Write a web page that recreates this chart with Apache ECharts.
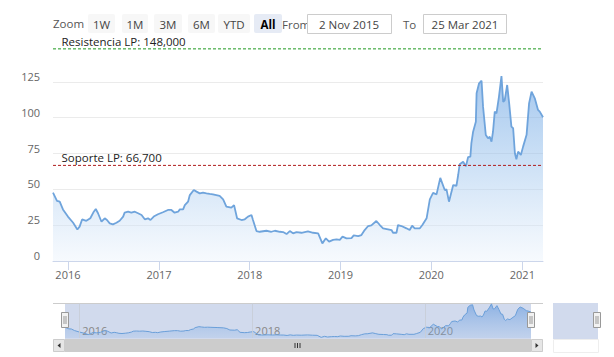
<!DOCTYPE html>
<html>
<head>
<meta charset="utf-8">
<script src="https://cdn.jsdelivr.net/npm/echarts@6/dist/echarts.min.js"></script>
<style>
html,body{margin:0;padding:0;background:#fff;}
#chart{width:614px;height:357px;}
</style>
</head>
<body>
<div id="chart"></div>
<script>
// ---- data ----
const dates = [
'2015-11-02','2015-11-18','2015-11-29','2015-12-12','2016-01-01','2016-01-22','2016-02-08','2016-02-17','2016-02-27','2016-03-15',
'2016-03-31','2016-04-14','2016-04-22','2016-05-01','2016-05-15','2016-05-28','2016-06-06','2016-06-17','2016-06-30','2016-07-14',
'2016-07-27','2016-08-10','2016-08-16','2016-08-30','2016-09-12','2016-09-26','2016-10-09','2016-10-23','2016-11-05','2016-11-18',
'2016-11-28','2016-12-11','2016-12-28','2017-01-17','2017-02-06','2017-02-20','2017-03-05','2017-03-19','2017-03-26','2017-04-08',
'2017-04-15','2017-04-28','2017-05-05','2017-05-21','2017-06-01','2017-06-14','2017-06-27','2017-07-11','2017-07-24','2017-08-06',
'2017-09-02','2017-09-16','2017-09-29','2017-10-19','2017-10-30','2017-11-11','2017-11-29','2017-12-12','2017-12-25','2018-01-08',
'2018-01-14','2018-01-28','2018-02-10','2018-03-09','2018-03-29','2018-04-12','2018-05-02','2018-05-15','2018-05-29','2018-06-11',
'2018-06-24','2018-07-08','2018-07-28','2018-08-23','2018-09-13','2018-10-03','2018-10-20','2018-11-03','2018-11-16','2018-12-02',
'2018-12-16','2018-12-29','2019-01-09','2019-01-25','2019-02-14','2019-02-23','2019-03-13','2019-03-26','2019-04-08','2019-04-22',
'2019-05-05','2019-05-25','2019-06-08','2019-06-21','2019-07-11','2019-07-25','2019-07-31','2019-08-14','2019-08-20','2019-09-03',
'2019-09-23','2019-10-06','2019-10-16','2019-10-26','2019-11-16','2019-11-26','2019-12-13','2019-12-26','2020-01-08','2020-01-22',
'2020-02-06','2020-02-24','2020-03-02','2020-03-12','2020-03-29','2020-04-11','2020-04-18','2020-04-24','2020-05-08','2020-05-19',
'2020-05-28','2020-06-06','2020-06-10','2020-06-17','2020-06-28','2020-07-01','2020-07-11','2020-07-21','2020-07-27','2020-08-07',
'2020-08-16','2020-08-23','2020-08-30','2020-09-05','2020-09-12','2020-09-19','2020-09-29','2020-10-09','2020-10-16','2020-10-22',
'2020-11-01','2020-11-09','2020-11-18','2020-11-25','2020-12-02','2020-12-08','2020-12-15','2020-12-26','2021-01-04','2021-01-18',
'2021-01-28','2021-02-07','2021-02-20','2021-03-05','2021-03-12','2021-03-25'
];
const values = [
47.7,42,41.4,36,31,26.7,22,24,29,28,
29.8,34.4,36.3,33.3,27.4,29.8,28.6,26.3,25.6,26.7,
28.1,31,33.7,34.4,33.7,34.4,33.3,32.1,29.1,29.8,
28.6,31,32.6,34,35.6,35.6,33.7,34.4,36,36,
39,41.4,46,49.5,48.4,47.2,47.7,47.2,46.8,46.5,
45.4,43,37.9,37.2,39,29.8,28.6,29.1,31,32.1,
28.6,20.9,20.4,21.1,20.4,21.1,20.4,20.2,18.8,20.9,
19.3,20.2,19.7,20.7,19.7,19.3,12.3,15.8,13.5,14.7,
15.1,14.7,17,15.8,16,17.9,17.4,18.1,21.6,24.4,
24.9,27.9,25.1,22.8,22.1,21.6,19.7,19.7,25.1,24.4,
22.8,21.6,24.6,22.8,22.8,25.1,29.8,43,47.5,46.5,
58,49.5,50,41.4,53,52.5,60,67.5,69.3,66,
72.5,72.8,82,90.2,97.2,117,124,125.8,107.7,87.9,
85.6,86.7,83.3,90.2,104.2,103,114.7,129,111,112,
122.8,110,93.7,92.6,75.2,71,76.3,74,79.8,88,
110,118.1,113.5,105.4,104.2,100.3
];
const rangeStart = '2015-11-02';
const rangeEnd = '2021-03-25';
const yTicks = [0, 25, 50, 75, 100, 125];
const resistencia = 148;
const resistenciaLabel = 'Resistencia LP: 148,000';
const soporte = 66.7;
const soporteLabel = 'Soporte LP: 66,700';
const navYears = ['2016-01-01', '2018-01-01', '2020-01-01'];
const zoomButtons = ['1W', '1M', '3M', '6M', 'YTD', 'All'];
const fromText = '2 Nov 2015';
const toText = '25 Mar 2021';

// ---- chart ----
const FONT = '"Open Sans", "Noto Sans", sans-serif';
const DAY = 86400000;
const seriesData = dates.map((d, i) => [d, values[i]]);

function yearLabel(v) {
  const d = new Date(v);
  return (d.getMonth() === 0 && d.getDate() === 1) ? String(d.getFullYear()) : '';
}
function evenYearLabel(v) {
  const d = new Date(v);
  return (d.getMonth() === 0 && d.getDate() === 1 && d.getFullYear() % 2 === 0) ? String(d.getFullYear()) : '';
}

const btnBoxes = [[88,27],[122,26],[154,28],[188,27],[218,32],[254,28]];
const graphics = [];
graphics.push({type:'text', left:53, top:17, style:{text:'Zoom', fill:'#555', font:'11.5px ' + FONT}});
zoomButtons.forEach((b, i) => {
  const [x, w] = btnBoxes[i];
  const sel = b === 'All';
  graphics.push({type:'rect', shape:{x:x, y:14, width:w, height:19, r:2}, style:{fill: sel ? '#e6ebf5' : '#f7f7f7'}});
  graphics.push({type:'text', x:x + w/2, y:24, style:{text:b, fill: sel ? '#000' : '#444', align:'center', verticalAlign:'middle', font:(sel ? 'bold ' : '') + '11.5px ' + FONT}});
});
graphics.push({type:'text', x:282, y:24, style:{text:'From', fill:'#555', verticalAlign:'middle', font:'11.5px ' + FONT}});
graphics.push({type:'rect', shape:{x:307.5, y:14.5, width:84, height:19}, style:{fill:'#fff', stroke:'#ccc', lineWidth:1}});
graphics.push({type:'text', x:349, y:24, style:{text:fromText, fill:'#444', align:'center', verticalAlign:'middle', font:'11.5px ' + FONT}});
graphics.push({type:'text', x:403, y:24, style:{text:'To', fill:'#555', verticalAlign:'middle', font:'11.5px ' + FONT}});
graphics.push({type:'rect', shape:{x:423.5, y:14.5, width:83, height:19}, style:{fill:'#fff', stroke:'#ccc', lineWidth:1}});
graphics.push({type:'text', x:465, y:24, style:{text:toText, fill:'#444', align:'center', verticalAlign:'middle', font:'11.5px ' + FONT}});

// navigator decorations
graphics.push({type:'rect', z:-1, shape:{x:65, y:303, width:466, height:36}, style:{fill:'rgba(102,133,194,0.3)'}});
graphics.push({type:'line', shape:{x1:53, y1:303.5, x2:543, y2:303.5}, style:{stroke:'#ccc', lineWidth:1}});
function handle(x) {
  graphics.push({type:'rect', z:10, shape:{x:x - 3.5, y:312.5, width:7, height:15}, style:{fill:'#f2f2f2', stroke:'#999', lineWidth:1}});
  graphics.push({type:'line', z:11, shape:{x1:x - 1, y1:316, x2:x - 1, y2:324}, style:{stroke:'#999', lineWidth:1}});
  graphics.push({type:'line', z:11, shape:{x1:x + 1, y1:316, x2:x + 1, y2:324}, style:{stroke:'#999', lineWidth:1}});
}
handle(65); handle(531);
// scrollbar
graphics.push({type:'rect', shape:{x:53, y:339, width:490, height:13}, style:{fill:'#f2f2f2'}});
graphics.push({type:'rect', shape:{x:65, y:339, width:466, height:13}, style:{fill:'#cccccc'}});
graphics.push({type:'rect', shape:{x:53.5, y:339.5, width:11, height:12}, style:{fill:'#e6e6e6', stroke:'#ccc', lineWidth:1}});
graphics.push({type:'rect', shape:{x:531.5, y:339.5, width:11, height:12}, style:{fill:'#e6e6e6', stroke:'#ccc', lineWidth:1}});
graphics.push({type:'polygon', shape:{points:[[60.5,343],[60.5,348],[57.5,345.5]]}, style:{fill:'#333'}});
graphics.push({type:'polygon', shape:{points:[[535.5,343],[535.5,348],[538.5,345.5]]}, style:{fill:'#333'}});
[295, 297.5, 300].forEach(x => graphics.push({type:'line', shape:{x1:x, y1:343, x2:x, y2:348}, style:{stroke:'#333', lineWidth:1}}));
// clipped duplicate on the right
graphics.push({type:'rect', shape:{x:553, y:303, width:45, height:36}, style:{fill:'rgba(102,133,194,0.3)'}});
graphics.push({type:'rect', shape:{x:553.5, y:339.5, width:45, height:13}, style:{fill:'#fff', stroke:'#eee', lineWidth:1}});
handle(597);

// horizontal level lines drawn as 2-point line series through the axes
function levelSeries(value, text, color) {
  return {
    type: 'line', xAxisIndex: 0, yAxisIndex: 0,
    data: [
      {value: [rangeStart, value], label: {show: true, formatter: text, position: [9, -13], align: 'left',
        color: '#222', fontSize: 11.5, fontFamily: FONT}},
      {value: [rangeEnd, value]}
    ],
    showSymbol: true, symbol: 'circle', symbolSize: 1, silent: true, z: 4,
    itemStyle: {color: 'rgba(0,0,0,0)', borderWidth: 0},
    lineStyle: {color: color, type: [3, 2], width: 1},
    label: {show: false}
  };
}

const option = {
  animation: false,
  backgroundColor: '#fff',
  textStyle: {fontFamily: FONT},
  grid: [
    {left: 53, right: 71, top: 46, bottom: 96},
    {left: 65, right: 83, top: 303, height: 35}
  ],
  xAxis: [
    {
      type: 'time', gridIndex: 0, min: rangeStart, max: rangeEnd,
      minInterval: 365 * DAY,
      axisLine: {lineStyle: {color: '#ccd6eb'}},
      axisTick: {show: true, length: 9, lineStyle: {color: '#ccd6eb'}},
      axisLabel: {color: '#666', fontSize: 11, margin: 8, formatter: yearLabel, hideOverlap: false},
      splitLine: {show: false}
    },
    {
      type: 'time', gridIndex: 1, min: rangeStart, max: rangeEnd,
      axisLine: {show: false}, axisTick: {show: false},
      axisLabel: {inside: true, color: '#888', fontSize: 11, margin: 2, align: 'left', padding: [0,0,0,3], formatter: evenYearLabel, hideOverlap: false},
      splitLine: {show: false}
    }
  ],
  yAxis: [
    {
      type: 'value', gridIndex: 0, min: 0, max: 150, interval: 25,
      axisLine: {show: false}, axisTick: {show: false},
      axisLabel: {color: '#666', fontSize: 11, margin: 13, verticalAlign: 'bottom', showMaxLabel: false,
        formatter: v => yTicks.includes(v) ? String(v) : ''},
      splitLine: {lineStyle: {color: '#ebebeb'}, showMaxLine: false}
    },
    {
      type: 'value', gridIndex: 1, min: 10, max: 132,
      show: false, splitLine: {show: false}
    }
  ],
  series: [
    {
      type: 'line', xAxisIndex: 0, yAxisIndex: 0, data: seriesData,
      showSymbol: false, smooth: false,
      lineStyle: {color: '#6fa4dc', width: 1.8},
      areaStyle: {color: {type: 'linear', global: true, x: 0, y: 60, x2: 0, y2: 261,
        colorStops: [{offset: 0, color: 'rgba(105,162,226,0.95)'}, {offset: 0.5, color: 'rgba(150,192,236,0.7)'}, {offset: 1, color: 'rgba(235,243,252,0.6)'}]}}
    },
    levelSeries(resistencia, resistenciaLabel, '#1f9a1f'),
    levelSeries(soporte, soporteLabel, '#b01e1e'),
    {
      type: 'line', xAxisIndex: 1, yAxisIndex: 1, data: seriesData,
      showSymbol: false,
      lineStyle: {color: '#6a9fd9', width: 1},
      areaStyle: {color: {type: 'linear', x: 0, y: 0, x2: 0, y2: 1,
        colorStops: [{offset: 0, color: 'rgba(95,150,220,0.85)'}, {offset: 1, color: 'rgba(120,170,230,0.25)'}]}},
      markLine: {
        silent: true, symbol: ['none', 'none'], animation: false,
        label: {show: false},
        lineStyle: {color: 'rgba(200,205,215,0.9)', type: 'solid', width: 1},
        data: navYears.map(d => ({xAxis: d}))
      }
    }
  ],
  graphic: graphics
};

const chart = echarts.init(document.getElementById('chart'), null, {renderer: 'svg', width: 614, height: 357});
chart.setOption(option);
</script>
</body>
</html>
